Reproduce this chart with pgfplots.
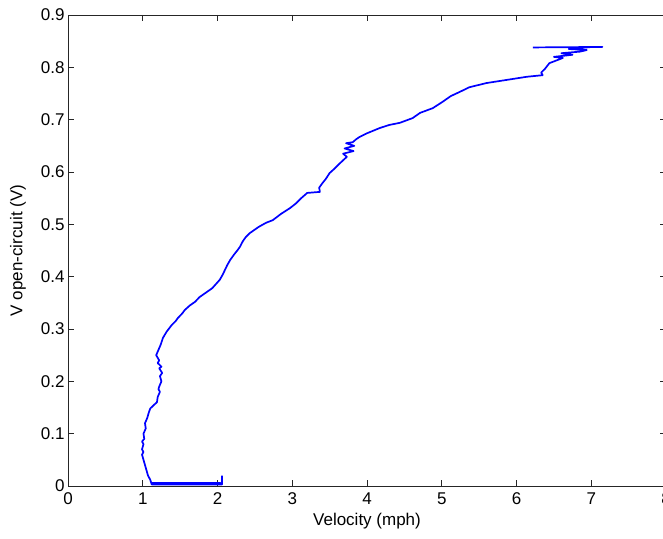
\documentclass[border=0pt]{standalone}
\usepackage{pgfplots}
\pgfplotsset{compat=1.18}
\usepackage{fontspec}
\setmainfont{Liberation Sans}
\definecolor{mblue}{RGB}{0,0,255}
\begin{document}
\begin{tikzpicture}
\begin{axis}[name=ax,scale only axis,width=598pt,height=471pt,
  xmin=0,xmax=8,ymin=0,ymax=0.9,
  xtick={0,1,...,8},ytick={0,0.1,...,0.9},
  yticklabels={0,0.1,0.2,0.3,0.4,0.5,0.6,0.7,0.8,0.9},
  tick align=inside,major tick length=6pt,
  axis line style={black!85,line width=0.8pt},
  tick style={black!85,line width=0.8pt},
  font=\fontsize{17}{20}\selectfont,
  /pgf/number format/assume math mode=true,
  xticklabel style={yshift=-3pt},
  xlabel={Velocity (mph)},ylabel={V open-circuit (V)},
  xlabel style={at={(axis description cs:0.5,0)},anchor=center,yshift=-35pt},
  ylabel style={at={(axis description cs:-0.0836,0.5)},anchor=center},
  clip=false,axis on top=false]
\addplot[mblue,line width=1.7pt,line join=round] coordinates {
(2.06,0.02) (2.06,0.003) (1.12,0.003) (1.12,0.006) (2.04,0.006) (2.04,0.003) (1.12,0.003) (1.10,0.012) (1.07,0.02) (1.05,0.03)
(1.03,0.04) (1.01,0.05) (0.99,0.06) (1.01,0.065) (0.99,0.07) (1.01,0.08) (0.99,0.085) (1.02,0.09)
(1.01,0.10) (1.04,0.11) (1.03,0.12) (1.06,0.13) (1.08,0.14) (1.10,0.148)
(1.15,0.155) (1.19,0.16) (1.20,0.17) (1.23,0.18) (1.21,0.185) (1.22,0.19) (1.25,0.2)
(1.23,0.21) (1.26,0.216) (1.22,0.225) (1.25,0.228) (1.20,0.235) (1.22,0.24) (1.18,0.25)
(1.21,0.26) (1.24,0.27) (1.27,0.283) (1.32,0.295) (1.39,0.308) (1.44,0.315)
(1.47,0.321) (1.53,0.33) (1.56,0.336) (1.63,0.345) (1.70,0.352) (1.76,0.361)
(1.85,0.37) (1.93,0.378) (1.98,0.386) (2.03,0.394) (2.07,0.404) (2.10,0.413)
(2.13,0.422) (2.17,0.432) (2.22,0.442) (2.27,0.451) (2.30,0.457) (2.34,0.468)
(2.38,0.476) (2.43,0.483) (2.55,0.495) (2.65,0.503) (2.74,0.508) (2.85,0.52)
(2.97,0.531) (3.05,0.54) (3.12,0.55) (3.2,0.56) (3.37,0.562) (3.36,0.57)
(3.40,0.578) (3.45,0.587) (3.5,0.598) (3.57,0.607) (3.64,0.617) (3.73,0.629)
(3.68,0.635) (3.82,0.64) (3.70,0.645) (3.83,0.65) (3.72,0.655) (3.81,0.657)
(3.85,0.662) (3.9,0.667) (4.0,0.674) (4.17,0.684) (4.3,0.69) (4.44,0.694)
(4.61,0.703) (4.71,0.713) (4.88,0.722) (5.01,0.734) (5.12,0.745) (5.24,0.753)
(5.37,0.762) (5.6,0.77) (5.87,0.776) (6.14,0.782) (6.35,0.785) (6.33,0.79)
(6.38,0.797) (6.44,0.808) (6.55,0.814) (6.62,0.818) (6.5,0.82) (6.75,0.824)
(6.6,0.827) (6.85,0.83) (6.94,0.833) (6.7,0.835) (7.02,0.839) (7.15,0.839)
(6.22,0.838)
};
\end{axis}
\pgfresetboundingbox
\useasboundingbox ([xshift=-68pt,yshift=-52pt]ax.south west) rectangle ([xshift=-3pt,yshift=15pt]ax.north east);
\end{tikzpicture}
\end{document}
